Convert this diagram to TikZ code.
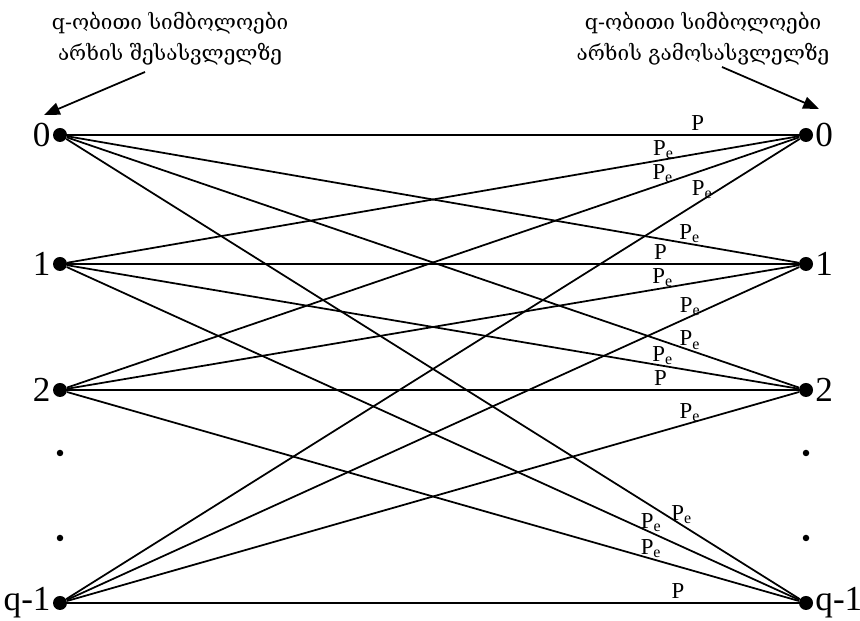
\documentclass[tikz,border=0pt]{standalone}
\usepackage{fontspec}
\setmainfont{Liberation Serif}
\newfontfamily\geofont{DejaVu Serif}
\usetikzlibrary{arrows.meta, positioning}

\begin{document}
\begin{tikzpicture}[
    sym/.style={circle, fill, inner sep=0pt, minimum size=0.28cm},
    gap/.style={circle, fill, inner sep=0pt, minimum size=0.13cm},
    num/.style={font=\fontsize{20}{20}\selectfont, inner sep=1pt},
    head/.style={align=center, font=\geofont\fontsize{11.8}{17.5}\selectfont},
    ch/.style={line width=1pt},
    prob/.style={font=\fontsize{13}{13}\selectfont, inner sep=0pt, anchor=base, yshift=2.5pt},
    arr/.style={-{Triangle[length=9pt, width=7pt]}, line width=1pt},
]
\useasboundingbox (0,0) rectangle (17.2,12.42);

% Headings
\node[head] (hin) at (3.4, 11.64) {q-ობითი სიმბოლოები\\არხის შესასვლელზე};
\node[head] (hout) at (14.06, 11.64) {q-ობითი სიმბოლოები\\არხის გამოსასვლელზე};

% Input symbols
\node[sym, label={[num]left:0}] (x0) at (1.2, 9.72) {};
\node[sym, label={[num]left:1}] (x1) at (1.2, 7.14) {};
\node[sym, label={[num]left:2}] (x2) at (1.2, 4.62) {};
\node[gap] (xd1) at (1.2, 3.36) {};
\node[gap] (xd2) at (1.2, 1.66) {};
\node[sym, label={[num]left:q-1}] (xq) at (1.2, 0.36) {};

% Output symbols
\node[sym, label={[num]right:0}] (y0) at (16.12, 9.72) {};
\node[sym, label={[num]right:1}] (y1) at (16.12, 7.14) {};
\node[sym, label={[num]right:2}] (y2) at (16.12, 4.62) {};
\node[gap] (yd1) at (16.12, 3.36) {};
\node[gap] (yd2) at (16.12, 1.66) {};
\node[sym, label={[num]right:q-1}] (yq) at (16.12, 0.36) {};

% Pointers
\coordinate (ain) at (2.9, 10.98);   \coordinate (aint) at (0.88, 10.12);
\coordinate (aout) at (14.44, 11.08); \coordinate (aoutt) at (16.38, 10.24);
\draw[arr] (ain) -- (aint);
\draw[arr] (aout) -- (aoutt);

% Transitions into 0
\draw[ch] (x0) -- node[prob, pos=0.862] {P} (y0);
\draw[ch] (x1) -- node[prob, pos=0.815] {P\textsubscript{e}} (y0);
\draw[ch] (x2) -- node[prob, pos=0.814] {P\textsubscript{e}} (y0);
\draw[ch] (xq) -- node[prob, pos=0.867] {P\textsubscript{e}} (y0);

% Transitions into 1
\draw[ch] (x0) -- node[prob, pos=0.851] {P\textsubscript{e}} (y1);
\draw[ch] (x1) -- node[prob, pos=0.811] {P} (y1);
\draw[ch] (x2) -- node[prob, pos=0.814] {P\textsubscript{e}} (y1);
\draw[ch] (xq) -- node[prob, pos=0.851] {P\textsubscript{e}} (y1);

% Transitions into 2
\draw[ch] (x0) -- node[prob, pos=0.851] {P\textsubscript{e}} (y2);
\draw[ch] (x1) -- node[prob, pos=0.814] {P\textsubscript{e}} (y2);
\draw[ch] (x2) -- node[prob, pos=0.811] {P} (y2);
\draw[ch] (xq) -- node[prob, pos=0.851] {P\textsubscript{e}} (y2);

% Transitions into q-1
\draw[ch] (x0) -- node[prob, pos=0.839] {P\textsubscript{e}} (yq);
\draw[ch] (x1) -- node[prob, pos=0.798] {P\textsubscript{e}} (yq);
\draw[ch] (x2) -- node[prob, pos=0.798] {P\textsubscript{e}} (yq);
\draw[ch] (xq) -- node[prob, pos=0.835] {P} (yq);

\end{tikzpicture}
\end{document}
